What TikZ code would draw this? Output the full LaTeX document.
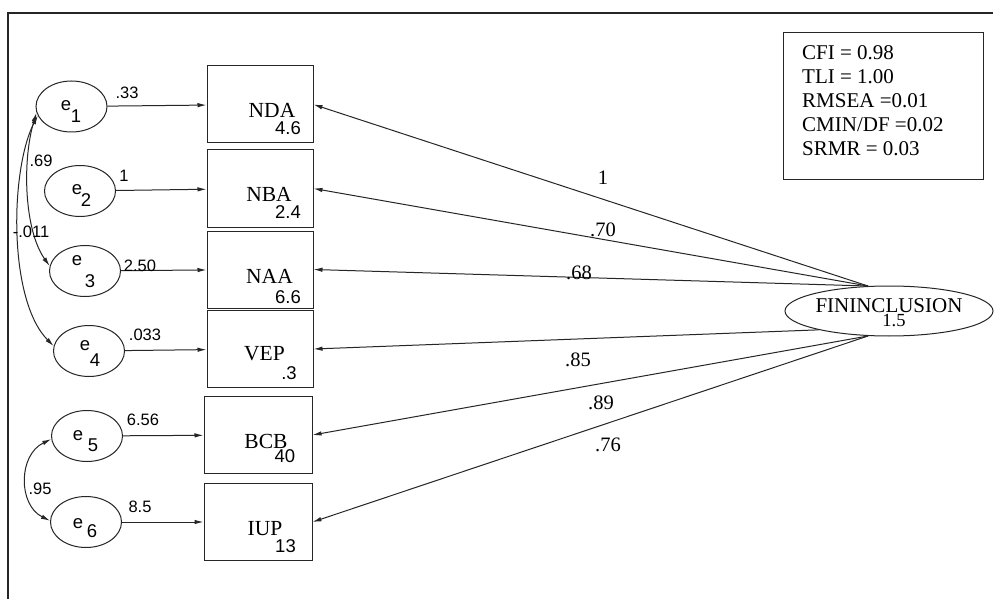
\documentclass[tikz,border=0pt]{standalone}
\usepackage{fontspec}
\setmainfont{Liberation Serif}
\setsansfont{Liberation Sans}
\usetikzlibrary{arrows.meta,shapes.geometric}
\begin{document}
\begin{tikzpicture}[x=1pt,y=-1pt,
  ln/.style={line width=1pt,draw=black!85},
  arr/.style={ln,-{Latex[length=9pt,width=4.5pt]}},
  biarr/.style={ln,{Latex[length=9pt,width=4.5pt]}-{Latex[length=9pt,width=4.5pt]}},
  err/.style={ellipse,draw=black!85,line width=1pt,minimum width=71pt,minimum height=51pt,inner sep=0pt},
  obs/.style={rectangle,draw=black!85,line width=1pt,minimum width=106pt,minimum height=77pt,inner sep=0pt},
  nm/.style={font=\fontsize{21.5}{24}\selectfont,inner sep=0pt},
  val/.style={font=\sffamily\fontsize{18.5}{20}\selectfont,inner sep=0pt},
  el/.style={font=\sffamily\fontsize{18.5}{20}\selectfont,inner sep=0pt},
  pl/.style={font=\sffamily\fontsize{16.5}{18}\selectfont,inner sep=0pt},
  sl/.style={font=\fontsize{20.5}{22}\selectfont,inner sep=0pt},
  fitt/.style={font=\fontsize{21}{24}\selectfont,inner sep=0pt,anchor=base west},
]
\useasboundingbox (0,0) rectangle (994,599);
\fill[white] (0,0) rectangle (994,599);
% frame
\draw[line width=1.3pt,black!85] (8,599) -- (8,13) -- (993,13);

% error ellipses
\node[err] (e1) at (71.5,106.5) {};
\node[err] (e2) at (80,191) {};
\node[err] (e3) at (85,271) {};
\node[err] (e4) at (89,351) {};
\node[err] (e5) at (87,436) {};
\node[err] (e6) at (86,522) {};
\node[el] (e1a) at (66,106) {e};  \node[el] (e1b) at (76,116) {1};
\node[el] (e2a) at (77,190) {e};  \node[el] (e2b) at (86,200) {2};
\node[el] (e3a) at (77,261) {e};  \node[el] (e3b) at (90,281) {3};
\node[el] (e4a) at (85,346) {e};  \node[el] (e4b) at (95,360) {4};
\node[el] (e5a) at (78,436) {e};  \node[el] (e5b) at (93,445) {5};
\node[el] (e6a) at (78,524) {e};  \node[el] (e6b) at (92,531) {6};

% observed boxes
\node[obs] (NDA) at (260,104.5) {};
\node[obs] (NBA) at (260,188.5) {};
\node[obs] (NAA) at (260,269.5) {};
\node[obs] (VEP) at (260,349) {};
\node[obs,minimum width=108pt] (BCB) at (258,435) {};
\node[obs,minimum width=108pt] (IUP) at (258,522) {};
\node[nm] (NDAt) at (272,110.5) {NDA};  \node[val] (NDAv) at (288,128.5) {4.6};
\node[nm] (NBAt) at (269,194.5) {NBA};  \node[val] (NBAv) at (288,212.5) {2.4};
\node[nm] (NAAt) at (269.5,276) {NAA};  \node[val] (NAAv) at (288,297.5) {6.6};
\node[nm] (VEPt) at (264.5,353.5) {VEP}; \node[val] (VEPv) at (289,373) {.3};
\node[nm] (BCBt) at (266,441.5) {BCB};  \node[val] (BCBv) at (285,456.5) {40};
\node[nm] (IUPt) at (265,529) {IUP};    \node[val] (IUPv) at (285.5,546.5) {13};

% latent
\node[ellipse,draw=black!85,line width=1pt,minimum width=208pt,minimum height=50pt,inner sep=0pt] (fin) at (889,311) {};
\node[nm,font=\fontsize{21}{24}\selectfont] (fint) at (889,306) {FININCLUSION};
\node[nm,font=\fontsize{18.5}{20}\selectfont] (finv) at (894,321) {1.5};

% fit box
\node[rectangle,draw=black!85,line width=1pt,minimum width=200pt,minimum height=147pt,inner sep=0pt] (fitbox) at (883,106.5) {};
\node[fitt] (fit1) at (802,59.5) {CFI = 0.98};
\node[fitt] (fit2) at (802,83.4) {TLI = 1.00};
\node[fitt] (fit3) at (802,107.3) {RMSEA =0.01};
\node[fitt] (fit4) at (802,131.2) {CMIN/DF =0.02};
\node[fitt] (fit5) at (802,155.1) {SRMR = 0.03};

% error paths
\draw[arr] (e1) -- (NDA);
\draw[arr] (e2) -- (NBA);
\draw[arr] (e3) -- (NAA);
\draw[arr] (e4) -- (VEP);
\draw[arr] (e5) -- (BCB);
\draw[arr] (e6) -- (IUP);
\node[pl] (l1) at (127,93) {.33};
\node[pl] (l2) at (124,176) {1};
\node[pl] (l3) at (140,266) {2.50};
\node[pl] (l4) at (145,335) {.033};
\node[pl] (l5) at (143,420) {6.56};
\node[pl] (l6) at (140,507) {8.5};

% covariances
\draw[biarr] (e1.190) .. controls (22,160) and (24,230) .. (e3.172);
\draw[biarr] (e1.195) .. controls (10,170) and (8,300) .. (e4.172);
\draw[biarr] (e5.185) .. controls (18,455) and (18,505) .. (e6.178);
\node[pl] (c1) at (41,161) {.69};
\node[pl] (c2) at (31,232) {-.011};
\node[pl] (c3) at (40,489) {.95};

% loadings
\draw[arr] (fin.130) -- (NDA.east);
\draw[arr] (fin.130) -- (NBA.east);
\draw[arr] (fin.130) -- (NAA.east);
\draw[arr] (fin.195) -- (VEP.east);
\draw[arr] (fin.230) -- (BCB.east);
\draw[arr] (fin.230) -- (IUP.east);
\node[sl] (s1) at (603,178) {1};
\node[sl] (s2) at (603,230) {.70};
\node[sl] (s3) at (579,273) {.68};
\node[sl] (s4) at (578,360) {.85};
\node[sl] (s5) at (601,403) {.89};
\node[sl] (s6) at (608,445) {.76};
\end{tikzpicture}
\end{document}
